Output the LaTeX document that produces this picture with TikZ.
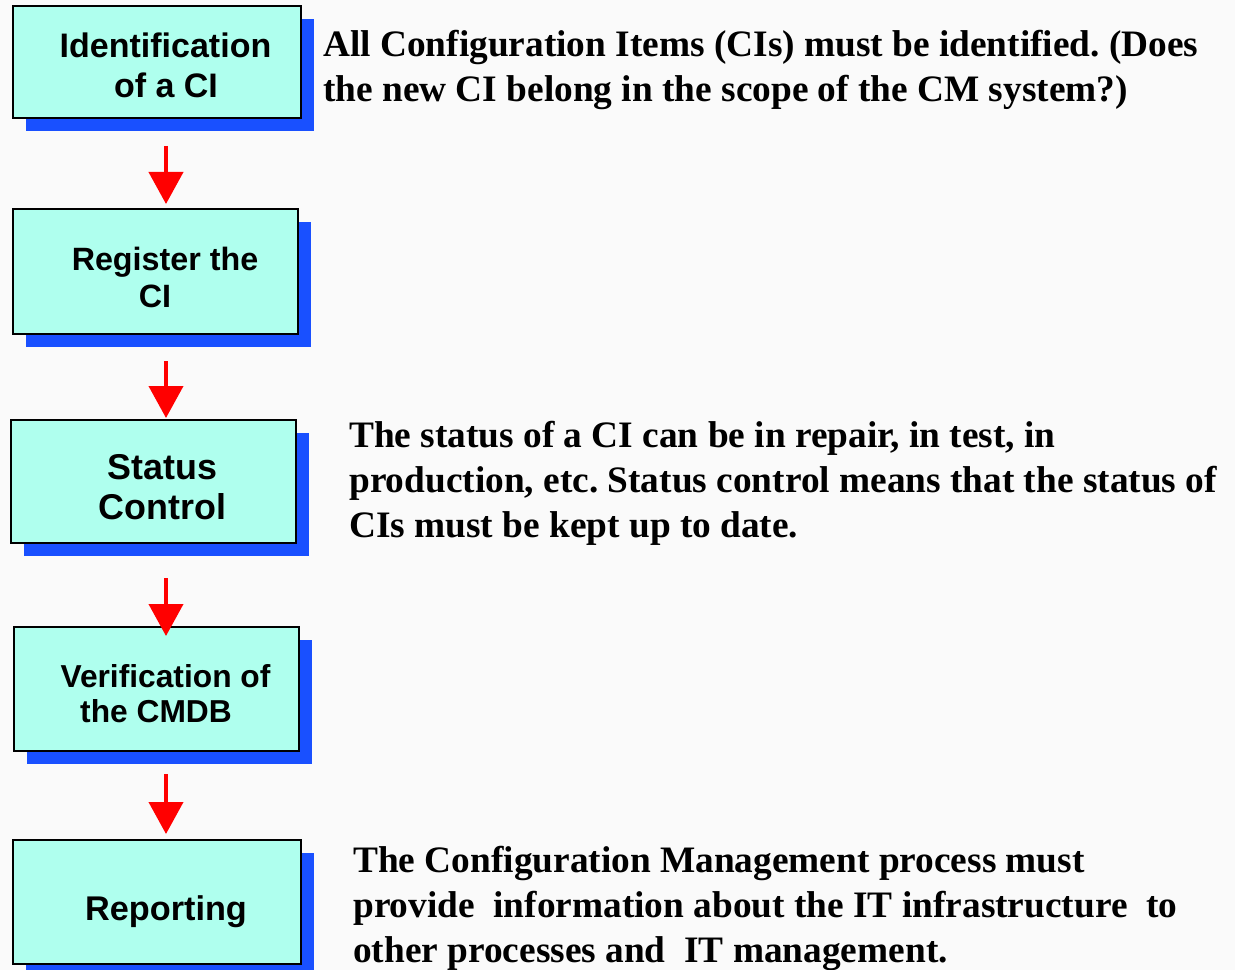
\documentclass[tikz,border=0pt]{standalone}
\usepackage{fontspec}
\setmainfont{Liberation Serif}
\newfontfamily\labelfont{Liberation Sans}
\usetikzlibrary{arrows.meta,shadows}
\definecolor{pagebg}{HTML}{FAFAFA}
\definecolor{cifill}{HTML}{AFFFEE}
\definecolor{cishadow}{HTML}{1950FF}
\definecolor{flowred}{HTML}{FF0000}
\frenchspacing
\tikzset{
  cibox/.style={draw=black, line width=1.5pt, fill=cifill, inner sep=0pt,
    drop shadow={shadow xshift=9.75pt, shadow yshift=-9.75pt, fill=cishadow, opacity=1}},
  boxline/.style={anchor=base, inner sep=0pt, text=black,
    font=\labelfont\bfseries\fontsize{#1}{30pt}\selectfont},
  boxline/.default=24.75pt,
  noteline/.style={anchor=base west, inner sep=0pt, text=black,
    font=\bfseries\fontsize{28pt}{33pt}\selectfont},
  flow/.style={draw=flowred, line width=3pt, -{Triangle[width=25.5pt,length=24pt]}},
}
\begin{document}
\begin{tikzpicture}[x=0.75pt, y=-0.75pt]
  % page
  \fill[pagebg] (0,0) rectangle (1235,970);
  \useasboundingbox (0,0) rectangle (1235,970);

  % process steps
  \node[cibox, minimum width=216pt,    minimum height=84pt]    (b1) at (157,62)    {};
  \node[cibox, minimum width=213.75pt, minimum height=93.75pt] (b2) at (155.5,271.5) {};
  \node[cibox, minimum width=213.75pt, minimum height=92.25pt] (b3) at (153.5,481.5) {};
  \node[cibox, minimum width=213.75pt, minimum height=93pt]    (b4) at (156.5,689) {};
  \node[cibox, minimum width=216pt,    minimum height=93pt]    (b5) at (157,902)   {};

  % step labels
  \node[boxline=25.5pt] (l1a) at (165.5,58)  {Identification};
  \node[boxline=25.5pt] (l1b) at (166,98)    {of a CI};
  \node[boxline=24.2pt] (l2a) at (165,270)   {Register the};
  \node[boxline=24.2pt] (l2b) at (155,307)   {CI};
  \node[boxline=26.9pt] (l3a) at (162.5,479) {Status};
  \node[boxline=26.9pt] (l3b) at (162.5,519) {Control};
  \node[boxline=23.8pt] (l4a) at (165.5,687) {Verification of};
  \node[boxline=23.8pt] (l4b) at (156,722)   {the CMDB};
  \node[boxline=25.7pt] (l5a) at (166,920)   {Reporting};

  % flow arrows
  \coordinate (ax) at (166,0);
  \draw[flow, shorten <=20.25pt, shorten >=3pt]   (b1.south -| ax) -- (b2.north -| ax);
  \draw[flow, shorten <=19.5pt,  shorten >=0.75pt] (b2.south -| ax) -- (b3.north -| ax);
  \draw[flow, shorten <=25.5pt,  shorten >=-7.5pt] (b3.south -| ax) -- (b4.north -| ax);
  \draw[flow, shorten <=16.5pt,  shorten >=3.75pt] (b4.south -| ax) -- (b5.north -| ax);

  % explanations
  \node[noteline] (n1a) at (323,57)  {All Configuration Items (CIs) must be identified. (Does};
  \node[noteline] (n1b) at (323,102) {the new CI belong in the scope of the CM system?)};

  \node[noteline] (n3a) at (349,447) {The status of a CI can be in repair, in test, in};
  \node[noteline] (n3b) at (349,492) {production, etc. Status control means that the status of};
  \node[noteline] (n3c) at (349,537) {CIs must be kept up to date.};

  \node[noteline] (n5a) at (353,872) {The Configuration Management process must};
  \node[noteline] (n5b) at (353,917) {provide\ \ information about the IT infrastructure\ \ to};
  \node[noteline] (n5c) at (353,962) {other processes and\ \ IT management.};
\end{tikzpicture}
\end{document}
